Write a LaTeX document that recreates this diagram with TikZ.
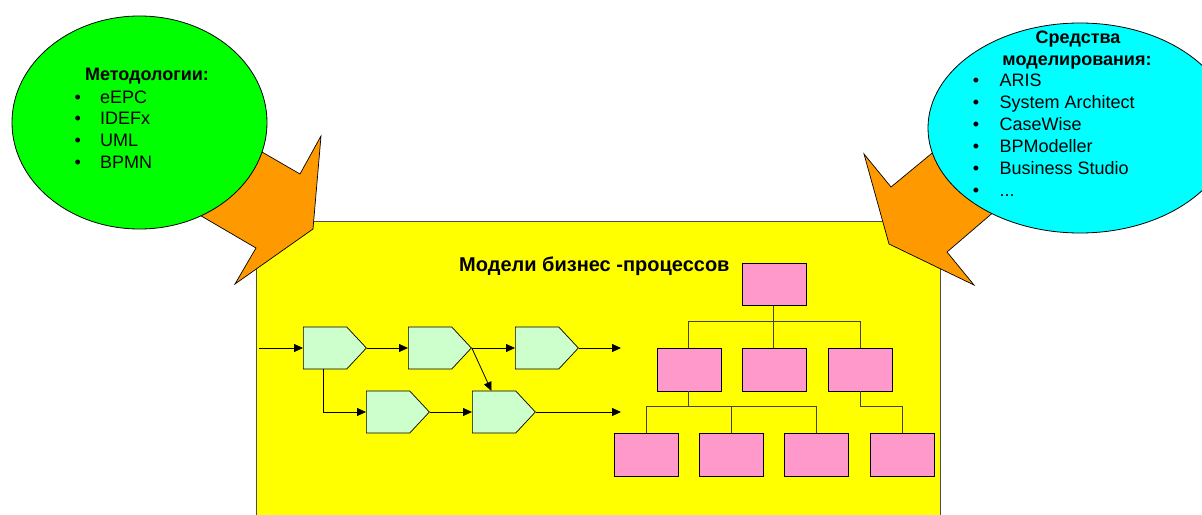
\documentclass[tikz,border=0pt]{standalone}
\usepackage{fontspec}
\setmainfont{Liberation Sans}
\usetikzlibrary{shapes.geometric,shapes.symbols,arrows.meta,calc}
\definecolor{grn}{HTML}{00FF00}
\definecolor{cyn}{HTML}{00FFFF}
\definecolor{orng}{HTML}{FF9900}
\definecolor{yel}{HTML}{FFFF00}
\definecolor{pgrn}{HTML}{CCFFCC}
\definecolor{pnk}{HTML}{FF99CC}
\begin{document}
\begin{tikzpicture}[x=1pt,y=-1pt,
  bubble/.style={ellipse,draw=black,line width=0.8pt,inner sep=0pt},
  bigarrow/.style={draw=black,line width=0.7pt,fill=orng,line join=miter},
  proc/.style={signal,signal to=east,draw=black,line width=0.7pt,fill=pgrn,
    minimum width=63pt,minimum height=42pt,signal pointer angle=94,inner sep=0pt,anchor=west},
  pbox/.style={rectangle,draw=black,line width=0.8pt,fill=pnk,
    minimum width=64pt,minimum height=42.5pt,inner sep=0pt},
  flow/.style={line width=0.8pt,-{Triangle[length=9pt,width=8pt]}},
  tree/.style={line width=0.9pt,draw=black!85!yellow},
  itemtxt/.style={anchor=base west,inner sep=0pt,font=\fontsize{18}{21}\selectfont},
  bul/.style={anchor=base,inner sep=0pt,font=\fontsize{18}{21}\selectfont},
  head/.style={anchor=base,inner sep=0pt,font=\fontsize{18}{21}\selectfont\bfseries}
]
\useasboundingbox (0,0) rectangle (1202,514);
\clip (0,0) rectangle (1202,514);

% yellow panel
\node[draw=black!70,line width=0.9pt,fill=yel,minimum width=684pt,minimum height=320pt,
  anchor=north west,inner sep=0pt] (panel) at (256,221) {};

% orange arrows
\draw[bigarrow] (186,108) -- (262,152) -- (300,174) -- (321,136) -- (313,229)
  -- (235,284) -- (256,248) -- (203,217) -- (150,186) -- cycle;
\draw[bigarrow] (971,121) -- (931,154) -- (891,187) -- (864,154) -- (889,244)
  -- (974,285) -- (947,252) -- (989,216) -- (1031,180) -- cycle;

% bubbles
\node[bubble,fill=grn,minimum width=255pt,minimum height=213pt] (meth) at (139.5,122.5) {};
\node[bubble,fill=cyn,minimum width=304pt,minimum height=210pt] (tools) at (1080,128) {};

% left text
\node[head] (mh) at (147,80) {Методологии:};
\foreach \t/\y/\n in {eEPC/103.3/a,IDEFx/124.7/b,UML/146.3/c,BPMN/168/d}{
  \node[bul] (mb\n) at (77.7,\y) {•};
  \node[itemtxt] (mi\n) at (100,\y) {\t};
}

% right text
\node[head] (th1) at (1078,43.3) {Средства};
\node[head] (th2) at (1077,65) {моделирования:};
\foreach \t/\y/\n in {ARIS/86/a,System Architect/108.5/b,CaseWise/130.3/c,BPModeller/152.2/d,Business Studio/174/e}{
  \node[bul] (tb\n) at (976,\y) {•};
  \node[itemtxt] (ti\n) at (999.3,\y) {\t};
}
\node[bul] (tbf) at (976,196) {•};
\node[itemtxt] (tif) at (999.3,196) {...};

% title
\node[anchor=base west,inner sep=0pt,font=\fontsize{20}{24}\selectfont\bfseries] (title) at (459,271.7) {Модели бизнес -процессов};

% process flow
\node[proc] (p1) at (303,348) {};
\node[proc] (p2) at (408,348) {};
\node[proc] (p3) at (515,348) {};
\node[proc] (p4) at (366,412) {};
\node[proc] (p5) at (472,412) {};
\coordinate (in) at (259,348);
\coordinate (out1) at (621,348);
\coordinate (out2) at (621,412);
\draw[flow] (in) -- (p1.west);
\draw[flow] (p1.east) -- (p2.west);
\draw[flow] (p2.east) -- (p3.west);
\draw[flow] (p3.east) -- (out1);
\draw[flow] ($(p1.west)+(20.5,21)$) |- (p4.west);
\draw[flow] (p2.east) -- ($(p5.west)+(19.5,-21)$);
\draw[flow] (p4.east) -- (p5.west);
\draw[flow] (p5.east) -- (out2);

% hierarchy
\node[pbox] (t0) at (773.9,284.5) {};
\node[pbox] (a1) at (688.9,369.7) {};
\node[pbox] (a2) at (773.9,369.7) {};
\node[pbox] (a3) at (860,369.7) {};
\node[pbox] (b1) at (646.3,454.7) {};
\node[pbox] (b2) at (731.3,454.7) {};
\node[pbox] (b3) at (816.7,454.7) {};
\node[pbox] (b4) at (902.2,454.7) {};
\coordinate (j0) at (773.9,321.7);
\coordinate (j1) at (688.9,406.7);
\coordinate (j3) at (860,406.7);
\draw[tree] (t0.south) -- (j0) -- (a2.north);
\draw[tree] (j0) -| (a1.north);
\draw[tree] (j0) -| (a3.north);
\draw[tree] (a1.south) -- (j1);
\draw[tree] (j1) -| (b1.north);
\draw[tree] (j1) -| (b2.north);
\draw[tree] (j1) -| (b3.north);
\draw[tree] (a3.south) -- (j3) -| (b4.north);
\end{tikzpicture}
\end{document}
